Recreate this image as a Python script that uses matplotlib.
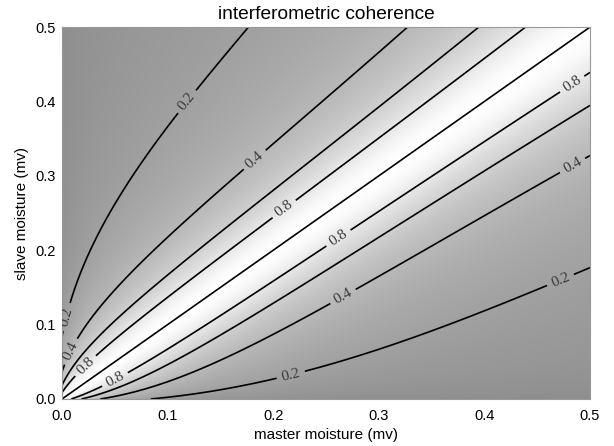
import numpy as np
import matplotlib
matplotlib.use("Agg")
import matplotlib.pyplot as plt
from matplotlib.colors import LinearSegmentedColormap

# Topp dielectric polynomial (real part) and a linear loss term
topp_coef = [3.03, 9.3, 146.0, -76.7]
loss_coef = [0.05, 8.2]

label_levels = [0.2, 0.4, 0.8]
plain_levels = [0.6]
ticks = [0.0, 0.1, 0.2, 0.3, 0.4, 0.5]

# where the contour labels sit (placement only)
label_spots = [(0.005, 0.11), (0.118, 0.40),
               (0.0095, 0.063), (0.181, 0.324),
               (0.024, 0.042), (0.209, 0.258),
               (0.048, 0.032), (0.26, 0.22), (0.48, 0.43),
               (0.268, 0.133), (0.479, 0.325),
               (0.216, 0.036), (0.467, 0.177)]

mv = np.linspace(0.0, 0.5, 501)
mx, my = np.meshgrid(mv, mv)


def kz(m):
    er = np.polyval(topp_coef[::-1], m)
    ei = loss_coef[0] + loss_coef[1] * m
    return np.sqrt(er - 1j * ei)


k1 = kz(mx)
k2 = kz(my)
num = 2 * np.sqrt(-k1.imag * -k2.imag)
den = np.abs(k1 - np.conj(k2))
coh = np.where(den > 0, num / np.where(den > 0, den, 1), 1.0)

cmap = LinearSegmentedColormap.from_list("g", [(0.54, 0.54, 0.54), (1, 1, 1)])

fig = plt.figure(figsize=(6.14, 4.46), dpi=100)
ax = fig.add_axes([0.101, 0.1054, 0.86, 0.834])
ax.imshow(coh, origin="lower", extent=[0, 0.5, 0, 0.5], aspect="auto",
          cmap=cmap, vmin=0, vmax=1, interpolation="bilinear")
ax.contour(mx, my, coh, levels=plain_levels, colors="k", linewidths=1.2)
cs = ax.contour(mx, my, coh, levels=label_levels, colors="k", linewidths=1.2)
ax.plot(mv, mv, color="k", lw=1.2)

# serif labels along the lines
plt.rcParams["font.family"] = ["Liberation Serif", "DejaVu Serif"]
ax.clabel(cs, manual=label_spots, inline=True, inline_spacing=5,
          fmt="%.1f", fontsize=11, colors="#3a3a3a")
plt.rcParams["font.family"] = ["Liberation Sans", "DejaVu Sans"]

ax.set_xlim(0, 0.5)
ax.set_ylim(0, 0.5)
ax.set_xticks(ticks)
ax.set_yticks(ticks)
ax.set_xticklabels(["%.1f" % t for t in ticks], family="Liberation Sans")
ax.set_yticklabels(["%.1f" % t for t in ticks], family="Liberation Sans")
ax.tick_params(length=0, labelsize=10.5)
ax.tick_params(axis="x", pad=7.5)
ax.tick_params(axis="y", pad=4.3)
for s in ax.spines.values():
    s.set_color("#999999")
    s.set_linewidth(0.8)

ax.set_title("interferometric coherence", fontsize=13.8, family="Liberation Sans", pad=5.8)
ax.set_xlabel("master moisture (mv)", fontsize=11, family="Liberation Sans", labelpad=3)
ax.set_ylabel("slave moisture (mv)", fontsize=11, family="Liberation Sans", labelpad=5)

fig.savefig("out.png", dpi=100)
